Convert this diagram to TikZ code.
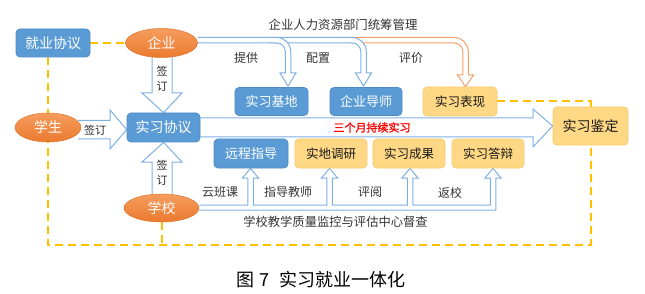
\documentclass[tikz,border=0pt]{standalone}
\usepackage{fontspec}
\usetikzlibrary{shapes.geometric}
\newfontfamily\cjk{Noto Sans CJK SC}
\newfontfamily\cjkB[FakeBold=1.5]{Noto Sans CJK SC}
\definecolor{bblue}{HTML}{5B9BD5}
\definecolor{bblueD}{HTML}{4E8AC6}
\definecolor{oran}{HTML}{EB7A2E}
\definecolor{oranL}{HTML}{F59D5E}
\definecolor{yel}{HTML}{FFD885}
\definecolor{yelD}{HTML}{F7C86A}
\definecolor{pipeB}{HTML}{7EB1E2}
\definecolor{pipeO}{HTML}{F4A06A}
\definecolor{gold}{HTML}{FFC000}
\definecolor{lab}{HTML}{333333}
\pgfdeclarelayer{bg}
\pgfsetlayers{bg,main}
\tikzset{
 bbox/.style={rectangle, rounded corners=4pt, fill=bblue, draw=bblueD, line width=0.7pt, text=white, inner sep=0pt, font=\cjk\fontsize{13}{13}\selectfont, minimum width=73pt, minimum height=28pt},
 bigb/.style={bbox, font=\cjk\fontsize{14}{14}\selectfont},
 ybox/.style={rectangle, rounded corners=4pt, fill=yel, draw=yelD, line width=0.7pt, text=black!90, inner sep=0pt, font=\cjk\fontsize{12.5}{12.5}\selectfont, minimum width=72pt, minimum height=29pt},
 oval/.style={ellipse, top color=oranL, bottom color=oran, draw=oran!95!black, line width=0.5pt, text=white, inner sep=0pt, font=\cjk\fontsize{14}{14}\selectfont, minimum width=74pt, minimum height=29pt},
 lbl/.style={text=lab, inner sep=0pt, font=\cjk\fontsize{12}{12}\selectfont},
 slbl/.style={text=black!85, inner sep=0pt, align=center, font=\cjk\fontsize{11}{15}\selectfont},
 hollowB/.style={fill=white, draw=pipeB, line width=1pt, line join=miter},
 hollowO/.style={fill=white, draw=pipeO, line width=1pt, line join=miter},
 ydash/.style={draw=gold, line width=2pt, dash pattern=on 8pt off 5pt},
}
\begin{document}
\begin{tikzpicture}[x=1pt,y=-1pt]
\useasboundingbox (0,0) rectangle (645,294);

% nodes
\node[bigb, minimum width=74pt] (jyxy) at (53,43) {就业协议};
\node[oval, minimum width=72pt] (qiye) at (161.5,43) {企业};
\node[oval, minimum width=66pt] (xs) at (48,127.5) {学生};
\node[bigb, minimum height=29pt] (sxxy) at (163.5,127.5) {实习协议};
\node[oval, minimum width=75pt, minimum height=28pt] (xx) at (161.5,208) {学校};
\node[bbox] (jidi) at (271.5,101.5) {实习基地};
\node[bbox, minimum width=72pt] (ds) at (366,101.5) {企业导师};
\node[ybox, minimum width=74pt] (bx) at (460,101.5) {实习表现};
\node[ybox, minimum width=75pt, minimum height=38pt, font=\cjk\fontsize{14}{14}\selectfont] (jd) at (590.5,126) {实习鉴定};
\node[bbox, minimum width=74pt, minimum height=29pt] (yc) at (251,153.5) {远程指导};
\node[ybox] (dy) at (331,153.5) {实地调研};
\node[ybox] (cg) at (409,153.5) {实习成果};
\node[ybox] (db) at (488,153.5) {实习答辩};

% labels
\node[lbl, font=\cjk\fontsize{12.4}{12.4}\selectfont] (tl) at (343,25) {企业人力资源部门统筹管理};
\node[lbl] (l1) at (246,58) {提供};
\node[lbl] (l2) at (318,58) {配置};
\node[lbl] (l3) at (411,58) {评价};
\node[lbl] (l4) at (220,192) {云班课};
\node[lbl] (l5) at (288,192) {指导教师};
\node[lbl] (l6) at (370,192) {评阅};
\node[lbl] (l7) at (450,193) {返校};
\node[lbl, font=\cjk\fontsize{12.3}{12.3}\selectfont] (bl) at (335.5,222) {学校教学质量监控与评估中心督查};
\node[text=red, inner sep=0pt, font=\cjkB\fontsize{11}{11}\selectfont] (sg) at (372,127.5) {三个月持续实习};
\node[text=black, inner sep=0pt, font=\cjk\fontsize{18}{18}\selectfont] (cap) at (321,280) {图\hspace{5pt}7\hspace{10pt}实习就业一体化};

\begin{pgfonlayer}{bg}
% dashed links
\draw[ydash] (jyxy.east) -- (qiye.west);
\draw[ydash] ([xshift=-5pt]jyxy.south) |- (jd.south |- 0,245) -- (jd.south);
\draw[ydash] (xx.south) -- (xx.south |- 0,245);
\draw[ydash] (bx.east) -| (jd.north);

% big arrow to 实习鉴定
\path[hollowB] (sxxy.east |- 0,118) -- (533,118) -- (533,109) -- (jd.west) -- (533,147) -- (533,137) -- (sxxy.east |- 0,137);

% 签订 arrows
\path[hollowB] (152,55) -- (152,93) -- (142,93) -- (sxxy.north) -- (182,93) -- (172,93) -- (172,55);
\path[hollowB] (152,197) -- (152,162) -- (142,162) -- (sxxy.south) -- (182,162) -- (172,162) -- (172,197);
\path[hollowB] (78,120.5) -- (110,120.5) -- (110,110) -- (sxxy.west |- 0,129.5) -- (110,149) -- (110,139) -- (78,139);

% top pipes: orange to 实习表现
\path[hollowO] (350,37.5) -- (454.25,37.5) .. controls (461.98,37.5) and (468.25,43.77) .. (468.25,51.5) -- (468.25,75) -- (473.5,75) -- (bx.north -| 465.5,0) -- (457.5,75) -- (462.75,75) -- (462.75,51.5) .. controls (462.75,46.8) and (458.95,43) .. (454.25,43) -- (350,43);
% blue to 企业导师
\path[hollowB] (270,37.5) -- (352.25,37.5) .. controls (359.98,37.5) and (366.25,43.77) .. (366.25,51.5) -- (366.25,73) -- (371.5,73) -- (363.5,86) -- (355.5,73) -- (360.75,73) -- (360.75,51.5) .. controls (360.75,46.8) and (356.95,43) .. (352.25,43) -- (270,43);
% blue to 实习基地
\path[hollowB] (qiye.east |- 0,37.5) -- (276.75,37.5) .. controls (284.48,37.5) and (290.75,43.77) .. (290.75,51.5) -- (290.75,73) -- (296,73) -- (288,86) -- (280,73) -- (285.25,73) -- (285.25,51.5) .. controls (285.25,46.8) and (281.45,43) .. (276.75,43) -- (qiye.east |- 0,43);

% bottom pipe from 学校
\path[hollowB] (xx.east |- 0,205) -- (247.75,205) -- (247.75,178) -- (242.5,178) -- (yc.south -| 250.5,0) -- (258.5,178) -- (253.25,178) -- (253.25,205)
 -- (326.75,205) -- (326.75,178) -- (321.5,178) -- (dy.south -| 329.5,0) -- (337.5,178) -- (332.25,178) -- (332.25,205)
 -- (407.25,205) -- (407.25,178) -- (402,178) -- (cg.south -| 410,0) -- (418,178) -- (412.75,178) -- (412.75,205)
 -- (490.25,205) -- (490.25,178) -- (485,178) -- (db.south -| 493,0) -- (501,178) -- (495.75,178) -- (495.75,210) -- (xx.east |- 0,210);
\end{pgfonlayer}

% 签订 texts
\node[slbl] (q1) at (162,78.5) {签\\订};
\node[slbl] (q2) at (162,172.5) {签\\订};
\node[slbl] (q3) at (95,130) {签订};
\end{tikzpicture}
\end{document}
